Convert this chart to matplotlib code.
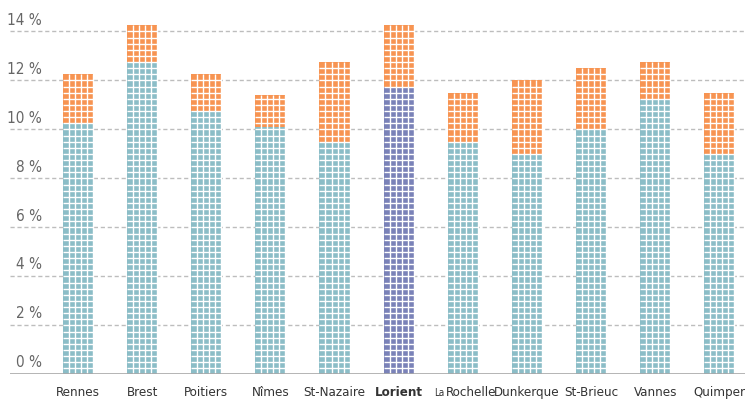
import numpy as np
import matplotlib.pyplot as plt

# values (%)
cities = ['Rennes', 'Brest', 'Poitiers', 'Nîmes', 'St-Nazaire', 'Lorient',
          'La Rochelle', 'Dunkerque', 'St-Brieuc', 'Vannes', 'Quimper']
base_vals = [10.25, 12.75, 10.75, 10.1, 9.5, 11.75, 9.5, 9.0, 10.0, 11.25, 9.0]
top_vals = [2.0, 1.5, 1.5, 1.3, 3.25, 2.5, 2.0, 3.0, 2.5, 1.5, 2.5]
highlight = 'Lorient'
y_ticks = [0, 2, 4, 6, 8, 10, 12, 14]
cell = 0.25

teal = '#8bbdc7'
orange = '#f79452'
blue = '#7a82b8'

plt.rcParams['font.family'] = ['DejaVu Sans']

fig = plt.figure(figsize=(7.45, 4.0), dpi=100)
ax = fig.add_axes([10 / 745, 0.064, 735 / 745, 0.888])

x = np.arange(len(cities))
w = 0.47
base_colors = [blue if c == highlight else teal for c in cities]
ax.bar(x, base_vals, width=w, color=base_colors, zorder=2)
ax.bar(x, top_vals, width=w, bottom=base_vals, color=orange, zorder=2)

# waffle grid over every bar
totals = np.array(base_vals) + np.array(top_vals)
for xi, tot in zip(x, totals):
    for k in range(1, 6):
        ax.vlines(xi - w / 2 + k * w / 5, 0, tot, color='white', lw=1.0, zorder=3)
    ys = np.arange(cell, tot, cell)
    ax.hlines(ys, xi - w / 2, xi + w / 2, color='white', lw=1.0, zorder=3)

# dashed gridlines and labels
for yt in y_ticks[1:]:
    ax.axhline(yt, color='#bdbdbd', lw=1.0, ls=(0, (3, 2)), zorder=1)
ax.axhline(0, color='#a8a8a8', lw=1.2, zorder=4)
for yt in y_ticks:
    ax.text(-0.56, yt + 0.16, f'{yt} %', ha='right', va='bottom',
            fontsize=11, color='#666666', fontstretch='condensed',
            fontweight='light', zorder=5)

ax.set_xlim(-1.06, 10.4)
ax.set_ylim(0, 14.5)
ax.set_xticks([])
ax.set_yticks([])
lab_y = -0.72
for xi, c in zip(x, cities):
    if c == 'La Rochelle':
        ax.text(xi - 0.29, lab_y - 0.05, 'La', ha='right', va='center', fontsize=7,
                color='#333333', fontstretch='condensed')
        ax.text(xi - 0.27, lab_y, 'Rochelle', ha='left', va='center', fontsize=9.5,
                color='#333333', fontstretch='condensed')
    else:
        ax.text(xi, lab_y, c, ha='center', va='center', fontsize=9.5,
                color='#333333', fontstretch='condensed',
                fontweight='bold' if c == highlight else 'normal')
for s in ax.spines.values():
    s.set_visible(False)

fig.savefig('out.png', dpi=100)
